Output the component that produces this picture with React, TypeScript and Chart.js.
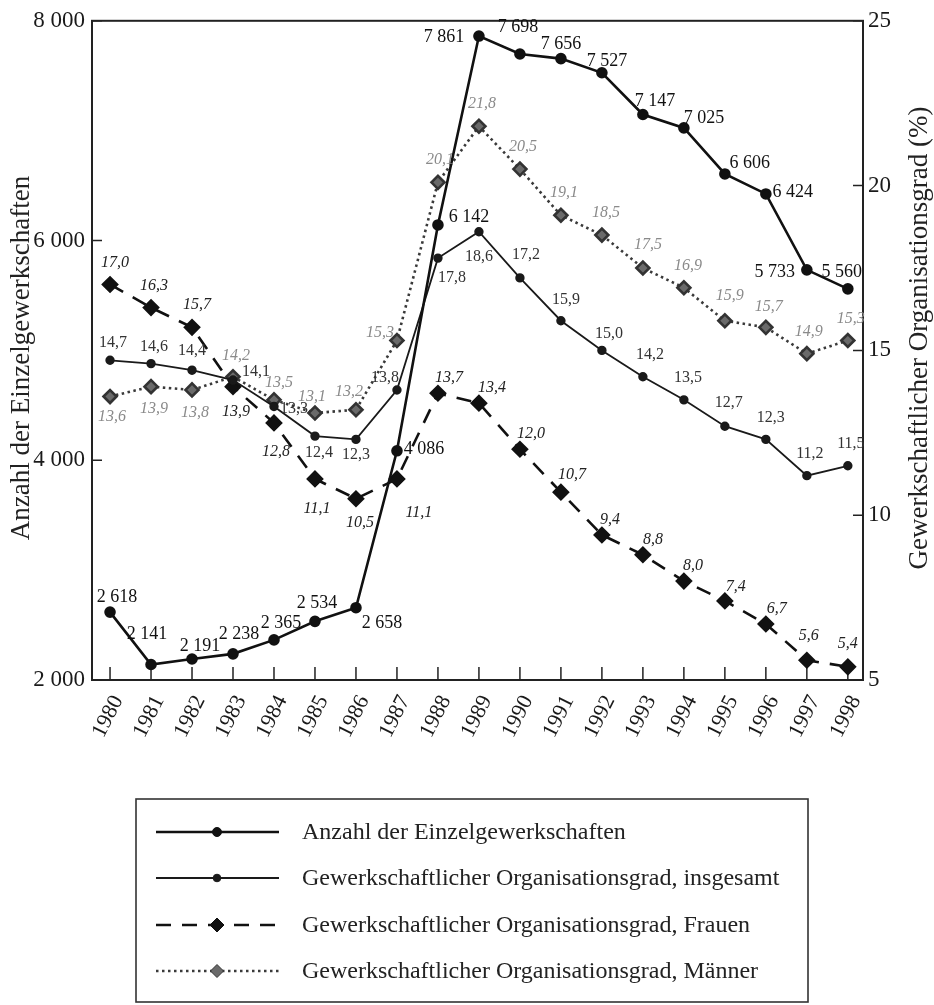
import { useEffect, useRef } from "react";
import { Chart, registerables } from "chart.js";

Chart.register(...registerables);

// ---------- data ----------
const years = [1980, 1981, 1982, 1983, 1984, 1985, 1986, 1987, 1988, 1989, 1990, 1991, 1992, 1993, 1994, 1995, 1996, 1997, 1998];
const anzahl = [2618, 2141, 2191, 2238, 2365, 2534, 2658, 4086, 6142, 7861, 7698, 7656, 7527, 7147, 7025, 6606, 6424, 5733, 5560];
const insgesamt = [14.7, 14.6, 14.4, 14.1, 13.3, 12.4, 12.3, 13.8, 17.8, 18.6, 17.2, 15.9, 15.0, 14.2, 13.5, 12.7, 12.3, 11.2, 11.5];
const frauen = [17.0, 16.3, 15.7, 13.9, 12.8, 11.1, 10.5, 11.1, 13.7, 13.4, 12.0, 10.7, 9.4, 8.8, 8.0, 7.4, 6.7, 5.6, 5.4];
const maenner = [13.6, 13.9, 13.8, 14.2, 13.5, 13.1, 13.2, 15.3, 20.1, 21.8, 20.5, 19.1, 18.5, 17.5, 16.9, 15.9, 15.7, 14.9, 15.3];
const leftTicks = [2000, 4000, 6000, 8000];
const rightTicks = [5, 10, 15, 20, 25];

const seriesNames = [
  "Anzahl der Einzelgewerkschaften",
  "Gewerkschaftlicher Organisationsgrad, insgesamt",
  "Gewerkschaftlicher Organisationsgrad, Frauen",
  "Gewerkschaftlicher Organisationsgrad, Männer",
];
const leftTitle = "Anzahl der Einzelgewerkschaften";
const rightTitle = "Gewerkschaftlicher Organisationsgrad (%)";

// label placement offsets (dx, dy) relative to each point
const offAnzahl = [[7, -15], [-4, -30], [8, -13], [6, -20], [7, -17], [2, -18], [26, 16], [27, -2], [31, -8], [-35, 1], [-2, -27], [0, -14], [5, -12], [12, -13], [20, -10], [25, -11], [27, -2], [-32, 2], [-6, -17]];
const offInsg = [[3, -17], [3, -17], [0, -19], [23, -8], [20, 2], [4, 17], [0, 15], [-12, -12], [14, 20], [0, 25], [6, -23], [5, -21], [7, -17], [7, -22], [4, -22], [4, -23], [5, -22], [3, -22], [3, -22]];
const offFrauen = [[5, -22], [3, -22], [5, -23], [3, 25], [2, 29], [2, 30], [4, 24], [22, 34], [11, -15], [13, -15], [11, -15], [11, -17], [8, -15], [10, -15], [9, -15], [11, -14], [11, -15], [2, -24], [0, -23]];
const offMaenner = [[2, 20], [3, 22], [3, 23], [3, -21], [5, -17], [-3, -16], [-7, -18], [-17, -8], [2, -23], [3, -22], [3, -22], [3, -22], [4, -22], [5, -23], [4, -22], [5, -25], [3, -21], [2, -22], [3, -22]];

const SERIF = "'Liberation Serif', 'Times New Roman', serif";

const fmtThousands = (v: number) => String(Math.round(v)).replace(/\B(?=(\d{3})+(?!\d))/g, " ");
const fmtPct = (v: number) => v.toFixed(1).replace(".", ",");

const labelCfg = [
  { off: offAnzahl, font: `18px ${SERIF}`, color: "#111", fmt: fmtThousands },
  { off: offInsg, font: `16px ${SERIF}`, color: "#333", fmt: fmtPct },
  { off: offFrauen, font: `italic 16px ${SERIF}`, color: "#222", fmt: fmtPct },
  { off: offMaenner, font: `italic 16px ${SERIF}`, color: "#8a8a8a", fmt: fmtPct },
];

const framePlugin = {
  id: "frameTicks",
  beforeDatasetsDraw(chart: any) {
    const { ctx, chartArea, scales } = chart;
    const { left, right, top, bottom } = chartArea;
    ctx.save();
    ctx.strokeStyle = "#222";
    ctx.lineWidth = 2;
    ctx.strokeRect(left, top, right - left, bottom - top);
    ctx.lineWidth = 1.5;
    ctx.beginPath();
    scales.x.ticks.forEach((t: any) => {
      const px = scales.x.getPixelForValue(t.value);
      ctx.moveTo(px, bottom);
      ctx.lineTo(px, bottom - 13);
    });
    scales.y.ticks.forEach((t: any) => {
      const py = scales.y.getPixelForValue(t.value);
      ctx.moveTo(left, py);
      ctx.lineTo(left + 10, py);
    });
    scales.y1.ticks.forEach((t: any) => {
      const py = scales.y1.getPixelForValue(t.value);
      ctx.moveTo(right, py);
      ctx.lineTo(right - 10, py);
    });
    ctx.stroke();
    ctx.restore();
  },
};

const labelPlugin = {
  id: "pointLabels",
  afterDatasetsDraw(chart: any) {
    const { ctx } = chart;
    ctx.save();
    ctx.textAlign = "center";
    ctx.textBaseline = "middle";
    chart.data.datasets.forEach((ds: any, di: number) => {
      const cfg = labelCfg[di];
      const meta = chart.getDatasetMeta(di);
      ctx.font = cfg.font;
      ctx.fillStyle = cfg.color;
      meta.data.forEach((pt: any, i: number) => {
        const [dx, dy] = cfg.off[i];
        ctx.fillText(cfg.fmt(ds.data[i].y), pt.x + dx, pt.y + dy);
      });
    });
    ctx.restore();
  },
};

const decorPlugin = {
  id: "decor",
  afterDraw(chart: any) {
    const { ctx } = chart;
    ctx.save();
    // axis titles
    ctx.fillStyle = "#222";
    ctx.font = `27px ${SERIF}`;
    ctx.textAlign = "center";
    ctx.textBaseline = "alphabetic";
    ctx.save();
    ctx.translate(29, 358);
    ctx.rotate(-Math.PI / 2);
    ctx.fillText(leftTitle, 0, 0);
    ctx.restore();
    ctx.save();
    ctx.translate(927, 338);
    ctx.rotate(-Math.PI / 2);
    ctx.fillText(rightTitle, 0, 0);
    ctx.restore();

    // legend box
    const bx = 136, by = 799, bw = 672, bh = 203;
    ctx.strokeStyle = "#333";
    ctx.lineWidth = 1.6;
    ctx.strokeRect(bx, by, bw, bh);
    const rows = [832, 878, 925, 971];
    const x0 = 156, x1 = 279, xm = 217;
    chart.data.datasets.forEach((ds: any, i: number) => {
      const y = rows[i];
      ctx.save();
      ctx.strokeStyle = ds.borderColor;
      ctx.lineWidth = ds.borderWidth;
      ctx.setLineDash(ds.borderDash || []);
      ctx.beginPath();
      ctx.moveTo(x0, y);
      ctx.lineTo(x1, y);
      ctx.stroke();
      ctx.setLineDash([]);
      ctx.fillStyle = ds.pointBackgroundColor;
      ctx.strokeStyle = ds.pointBorderColor;
      ctx.lineWidth = 1;
      const r = ds.pointRadius;
      ctx.beginPath();
      if (ds.pointStyle === "rectRot") {
        ctx.moveTo(xm, y - r);
        ctx.lineTo(xm + r, y);
        ctx.lineTo(xm, y + r);
        ctx.lineTo(xm - r, y);
        ctx.closePath();
      } else {
        ctx.arc(xm, y, r, 0, Math.PI * 2);
      }
      ctx.fill();
      ctx.stroke();
      ctx.restore();
      ctx.fillStyle = "#222";
      ctx.font = `24px ${SERIF}`;
      ctx.textAlign = "left";
      ctx.textBaseline = "middle";
      ctx.fillText(seriesNames[i], 302, y + 1);
    });
    ctx.restore();
  },
};

export default function App() {
  const ref = useRef<HTMLCanvasElement | null>(null);

  useEffect(() => {
    if (!ref.current) return;
    const pts = (arr: number[]) => arr.map((v, i) => ({ x: years[i], y: v }));
    const chart = new Chart(ref.current, {
      type: "line",
      data: {
        datasets: [
          {
            label: seriesNames[0],
            data: pts(anzahl),
            yAxisID: "y",
            borderColor: "#111",
            borderWidth: 2.6,
            pointStyle: "circle",
            pointRadius: 4.5,
            pointBackgroundColor: "#111",
            pointBorderColor: "#111",
            tension: 0,
          },
          {
            label: seriesNames[1],
            data: pts(insgesamt),
            yAxisID: "y1",
            borderColor: "#1a1a1a",
            borderWidth: 1.8,
            pointStyle: "circle",
            pointRadius: 3.8,
            pointBackgroundColor: "#1a1a1a",
            pointBorderColor: "#1a1a1a",
            tension: 0,
          },
          {
            label: seriesNames[2],
            data: pts(frauen),
            yAxisID: "y1",
            borderColor: "#111",
            borderWidth: 2.6,
            borderDash: [15, 11],
            pointStyle: "rectRot",
            pointRadius: 7,
            pointBackgroundColor: "#111",
            pointBorderColor: "#111",
            tension: 0,
          },
          {
            label: seriesNames[3],
            data: pts(maenner),
            yAxisID: "y1",
            borderColor: "#3a3a3a",
            borderWidth: 2.6,
            borderDash: [2.5, 3.5],
            pointStyle: "rectRot",
            pointRadius: 6.5,
            pointBackgroundColor: "#6a6a6a",
            pointBorderColor: "#333",
            tension: 0,
          },
        ],
      },
      options: {
        animation: false,
        responsive: false,
        devicePixelRatio: 1,
        layout: { padding: { top: 20, left: 0, right: 0, bottom: 0 } },
        plugins: { legend: { display: false }, tooltip: { enabled: false } },
        scales: {
          x: {
            type: "linear",
            position: "bottom",
            min: 1979.56,
            max: 1998.37,
            afterBuildTicks: (s: any) => {
              s.ticks = years.map((v) => ({ value: v }));
            },
            afterFit: (s: any) => {
              s.height = 325;
            },
            ticks: {
              autoSkip: false,
              minRotation: 63,
              maxRotation: 63,
              padding: 11,
              labelOffset: 8,
              color: "#1a1a1a",
              font: { family: SERIF, size: 22 },
              callback: (v: any) => String(v),
            },
            grid: { display: false, drawTicks: false },
            border: { display: false },
          },
          y: {
            type: "linear",
            position: "left",
            min: 2000,
            max: 8000,
            afterBuildTicks: (s: any) => {
              s.ticks = leftTicks.map((v) => ({ value: v }));
            },
            afterFit: (s: any) => {
              s.width = 92;
            },
            ticks: {
              padding: 7,
              color: "#1a1a1a",
              font: { family: SERIF, size: 23 },
              callback: (v: any) => fmtThousands(Number(v)),
            },
            grid: { display: false, drawTicks: false },
            border: { display: false },
          },
          y1: {
            type: "linear",
            position: "right",
            min: 5,
            max: 25,
            afterBuildTicks: (s: any) => {
              s.ticks = rightTicks.map((v) => ({ value: v }));
            },
            afterFit: (s: any) => {
              s.width = 71;
            },
            ticks: {
              padding: 5,
              color: "#1a1a1a",
              font: { family: SERIF, size: 23 },
              callback: (v: any) => String(v),
            },
            grid: { display: false, drawTicks: false },
            border: { display: false },
          },
        },
      },
      plugins: [framePlugin, labelPlugin, decorPlugin],
    } as any);
    return () => chart.destroy();
  }, []);

  return (
    <div style={{ position: "absolute", left: 0, top: 0, width: 934, height: 1005, background: "#fff" }}>
      <canvas ref={ref} width={934} height={1005} style={{ display: "block", width: 934, height: 1005 }} />
    </div>
  );
}
